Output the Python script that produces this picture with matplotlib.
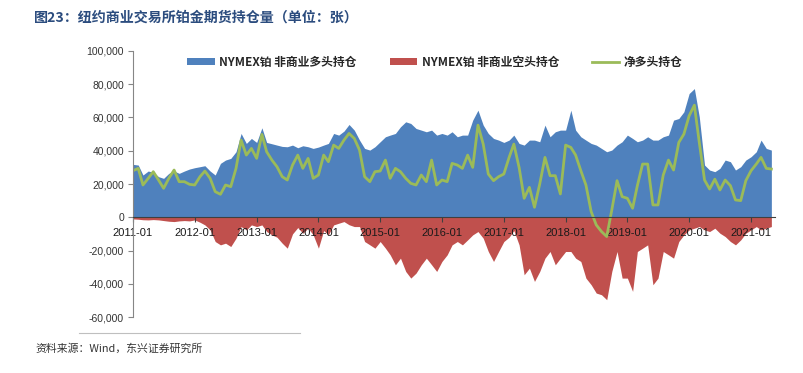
import numpy as np
import pandas as pd
import matplotlib
matplotlib.use('Agg')
import matplotlib.pyplot as plt
import matplotlib.dates as mdates
from matplotlib.patches import Patch
from matplotlib.lines import Line2D
from matplotlib.ticker import FuncFormatter

# ── 数据（月度，单位：张）──
dates = pd.date_range('2011-01-01', '2021-05-01', freq='MS')

long_pos = np.array([
    31.8, 31.4, 25.4, 27.8, 27.0, 24.4, 23.4, 26.4, 27.8, 26.4, 27.8, 29.0,
    29.8, 30.4, 31.0, 27.8, 25.4, 32.4, 34.4, 35.4, 39.4, 50.4, 44.4, 47.4,
    45.0, 53.8, 45.0, 44.2, 43.4, 42.6, 42.4, 43.4, 41.8, 43.0, 42.4, 41.4,
    42.2, 43.4, 44.4, 50.4, 49.4, 51.8, 55.8, 52.4, 46.4, 41.4, 40.4, 42.4,
    45.4, 48.4, 49.4, 50.4, 54.4, 57.4, 56.4, 53.4, 52.4, 51.4, 52.4, 49.4,
    50.4, 49.4, 51.4, 48.4, 49.4, 49.4, 58.4, 64.4, 55.4, 50.4, 47.4, 46.4,
    45.0, 46.4, 49.4, 44.4, 43.4, 46.4, 46.4, 45.4, 55.4, 48.4, 51.4, 52.4,
    52.4, 64.4, 52.4, 48.4, 46.4, 44.4, 43.4, 41.4, 39.4, 40.4, 43.4, 45.4,
    49.4, 47.4, 45.4, 46.4, 48.4, 46.4, 46.4, 48.4, 49.4, 58.4, 59.4, 63.4,
    74.4, 77.4, 60.4, 31.4, 28.4, 27.4, 29.4, 34.4, 33.4, 28.4, 30.4, 34.4,
    36.4, 39.4, 46.4, 41.4, 40.4]) * 1000

short_pos = np.array([
    -1.0, -1.2, -1.5, -1.6, -1.4, -1.6, -2.0, -2.4, -2.6, -2.2, -2.0, -2.2,
    -1.6, -3.0, -4.6, -7.6, -14.6, -16.6, -15.6, -17.6, -12.6, -5.6, -7.6, -4.6,
    -5.6, -4.6, -8.6, -10.6, -12.0, -15.6, -18.6, -10.0, -6.2, -9.6, -6.6, -10.6,
    -18.6, -8.0, -10.6, -4.6, -3.6, -2.6, -4.5, -5.6, -5.6, -14.6, -16.6, -18.6,
    -14.6, -18.6, -22.6, -28.6, -24.6, -32.6, -36.6, -33.6, -28.6, -24.6, -28.6, -32.6,
    -26.6, -22.6, -16.6, -14.6, -16.6, -13.6, -10.6, -8.6, -12.6, -20.6, -26.6, -20.6,
    -14.6, -12.0, -8.0, -16.6, -34.6, -30.6, -38.6, -32.6, -24.6, -20.6, -28.6, -24.6,
    -20.6, -20.6, -24.6, -26.6, -36.6, -40.6, -45.6, -46.6, -49.6, -32.6, -20.6, -36.6,
    -36.6, -44.6, -20.6, -18.6, -16.6, -40.6, -36.6, -20.6, -22.6, -24.6, -14.6, -10.6,
    -7.6, -6.6, -5.6, -7.6, -8.6, -6.6, -9.6, -11.6, -14.6, -16.6, -13.6, -9.6,
    -7.6, -5.6, -7.6, -6.6, -5.6]) * 1000

net_pos = np.array([
    28.0, 29.4, 19.4, 23.4, 27.4, 22.4, 17.4, 23.4, 28.4, 21.4, 21.4, 19.8,
    19.4, 24.4, 27.8, 23.4, 15.4, 13.8, 19.4, 18.4, 29.4, 46.4, 37.4, 41.4,
    35.4, 49.8, 39.4, 34.4, 30.4, 24.4, 22.4, 31.4, 37.4, 29.4, 35.4, 23.4,
    25.4, 37.4, 33.4, 43.4, 41.4, 46.4, 50.4, 47.4, 40.4, 24.4, 21.4, 27.4,
    27.8, 34.4, 23.4, 29.4, 27.4, 23.4, 20.4, 19.4, 25.4, 21.4, 34.4, 19.4,
    22.4, 21.4, 32.4, 31.4, 29.4, 37.4, 30.0, 55.4, 44.0, 26.0, 22.0, 24.4,
    26.0, 36.0, 44.0, 30.0, 11.4, 18.0, 6.0, 20.0, 36.0, 25.0, 25.0, 14.0,
    43.4, 42.0, 37.4, 28.0, 19.4, 3.4, -4.6, -8.6, -11.6, 4.4, 22.0, 12.4,
    11.4, 5.4, 19.0, 32.0, 32.0, 7.4, 7.4, 25.4, 34.4, 28.4, 45.0, 50.0,
    61.0, 67.4, 45.0, 22.4, 17.0, 22.9, 16.4, 22.4, 19.0, 10.4, 10.0, 22.0,
    28.0, 32.0, 36.0, 29.4, 29.0]) * 1000

labels = ['NYMEX铂 非商业多头持仓', 'NYMEX铂 非商业空头持仓', '净多头持仓']
c_long, c_short, c_net = '#4F81BD', '#C0504D', '#9BBB59'

cjk = ['Noto Sans CJK SC', 'DejaVu Sans']
num_font = 'Liberation Sans'

# ── 画图 ──
fig = plt.figure(figsize=(8.04, 3.73), dpi=100)
ax = fig.add_axes([0.1654, 0.1501, 0.798, 0.7132])

ax.fill_between(dates, long_pos, 0, color=c_long, lw=0)
ax.fill_between(dates, short_pos, 0, color=c_short, lw=0)
ax.plot(dates, net_pos, color=c_net, lw=2.0)

ax.set_ylim(-60000, 100000)
ax.set_yticks(np.arange(-60000, 100001, 20000))
ax.yaxis.set_major_formatter(FuncFormatter(lambda v, p: f'{int(v):,}'))
ax.set_xlim(pd.Timestamp('2011-01-01'), pd.Timestamp('2021-05-20'))
ax.xaxis.set_major_locator(mdates.YearLocator())
ax.xaxis.set_major_formatter(mdates.DateFormatter('%Y-%m'))

for s in ['top', 'right']:
    ax.spines[s].set_visible(False)
ax.spines['bottom'].set_position(('data', 0))
ax.spines['bottom'].set_color('#404040')
ax.spines['bottom'].set_linewidth(0.8)
ax.spines['left'].set_color('#868686')
ax.spines['left'].set_linewidth(0.8)

ax.tick_params(axis='x', length=3.5, width=0.8, color='#404040', pad=4.5,
               labelsize=8, labelcolor='#1a1a1a')
ax.tick_params(axis='y', length=3.5, width=0.8, color='#868686', pad=3,
               labelsize=7.5, labelcolor='#333333')
for t in ax.get_xticklabels() + ax.get_yticklabels():
    t.set_fontfamily(num_font)

# 标题
fig.text(34 / 804, 1 - 18 / 373, '图23：纽约商业交易所铂金期货持仓量（单位：张）',
         family=cjk, fontsize=10.1, fontweight='bold', color='#2B4C7E',
         ha='left', va='center')

# 图例
handles = [Patch(facecolor=c_long, edgecolor='none'),
           Patch(facecolor=c_short, edgecolor='none'),
           Line2D([0], [0], color=c_net, lw=2.0)]
leg = fig.legend(handles, labels, loc='center', ncol=3, frameon=False,
                 bbox_to_anchor=(435 / 804, 1 - 62 / 373),
                 prop={'family': cjk, 'size': 8.5, 'weight': 'bold'},
                 handlelength=2.3, handleheight=0.55, handletextpad=0.4,
                 columnspacing=2.8)
for t in leg.get_texts():
    t.set_color('#262626')

# 资料来源
fig.add_artist(Line2D([79 / 804, 300 / 804], [1 - 333 / 373, 1 - 333 / 373],
                      color='#bfbfbf', lw=0.8))
fig.text(35 / 804, 1 - 349 / 373, '资料来源：Wind，东兴证券研究所',
         family=cjk, fontsize=7.8, style='italic', color='#333333',
         ha='left', va='center')

fig.savefig('out.png', dpi=100)
